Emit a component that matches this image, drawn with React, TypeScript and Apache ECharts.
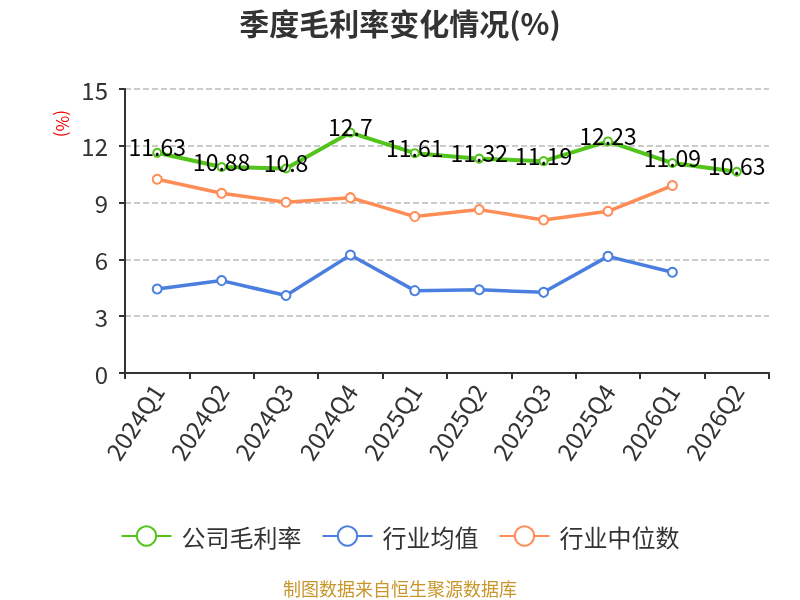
import React, { useEffect, useRef } from "react";
import * as echarts from "echarts";

const categories = ["2024Q1", "2024Q2", "2024Q3", "2024Q4", "2025Q1", "2025Q2", "2025Q3", "2025Q4", "2026Q1", "2026Q2"];
const companyMargin = [11.63, 10.88, 10.8, 12.7, 11.61, 11.32, 11.19, 12.23, 11.09, 10.63];
const industryAvg = [4.44, 4.88, 4.09, 6.23, 4.35, 4.4, 4.26, 6.16, 5.32, null];
const industryMedian = [10.23, 9.49, 9.02, 9.26, 8.26, 8.63, 8.08, 8.54, 9.9, null];
const yTicks = [0, 3, 6, 9, 12, 15];

const FONT = "'Noto Sans CJK SC', 'Noto Sans', sans-serif";

export default function App() {
  const ref = useRef<HTMLDivElement>(null);
  useEffect(() => {
    const chart = echarts.init(ref.current!, null, { renderer: "svg" });
    chart.setOption({
      animation: false,
      textStyle: { fontFamily: FONT },
      title: {
        text: "季度毛利率变化情况(%)",
        left: "center",
        top: 2,
        textStyle: { fontSize: 30, fontWeight: "bold", color: "#333", fontFamily: FONT },
      },
      graphic: [
        {
          type: "text",
          x: 72,
          y: 110,
          rotation: -Math.PI / 2,
          style: { text: "(%)", fill: "#e00", fontSize: 17, fontFamily: FONT },
        },
        {
          type: "text",
          left: "center",
          top: 579,
          style: { text: "制图数据来自恒生聚源数据库", fill: "#c8962a", fontSize: 18, fontFamily: FONT },
        },
      ],
      legend: {
        top: 519,
        left: "center",
        itemWidth: 50,
        itemHeight: 24,
        itemGap: 20,
        textStyle: { fontSize: 24, color: "#333", fontFamily: FONT, padding: [0, 0, 0, 5] },
        data: ["公司毛利率", "行业均值", "行业中位数"],
      },
      grid: { left: 125, right: 31, top: 89, bottom: 227 },
      xAxis: {
        type: "category",
        data: categories,
        boundaryGap: true,
        axisLine: { lineStyle: { color: "#333", width: 2 } },
        axisTick: { show: true, lineStyle: { color: "#333", width: 2 }, length: 6 },
        axisLabel: { rotate: 57, fontSize: 24, color: "#333", margin: 13, interval: 0 },
      },
      yAxis: {
        type: "value",
        min: yTicks[0],
        max: yTicks[yTicks.length - 1],
        interval: 3,
        axisLine: { show: true, lineStyle: { color: "#333", width: 2 } },
        axisTick: { show: true, lineStyle: { color: "#333", width: 2 }, length: 6 },
        axisLabel: { fontSize: 24, color: "#333", margin: 17 },
        splitLine: { lineStyle: { type: "dashed", color: "#bbb", width: 1.5 } },
      },
      series: [
        {
          name: "公司毛利率",
          type: "line",
          data: companyMargin,
          symbol: "emptyCircle",
          symbolSize: 8,
          itemStyle: { color: "#52c41a", borderWidth: 2 },
          lineStyle: { width: 4, color: "#52c41a" },
          label: { show: true, position: "top", distance: -10, fontSize: 23, color: "#000" },
          z: 3,
        },
        {
          name: "行业均值",
          type: "line",
          data: industryAvg,
          symbol: "emptyCircle",
          symbolSize: 9,
          itemStyle: { color: "#4a7fe0", borderWidth: 2 },
          lineStyle: { width: 3.5, color: "#4a7fe0" },
        },
        {
          name: "行业中位数",
          type: "line",
          data: industryMedian,
          symbol: "emptyCircle",
          symbolSize: 9,
          itemStyle: { color: "#ff8c55", borderWidth: 2 },
          lineStyle: { width: 3.5, color: "#ff8c55" },
        },
      ],
    });
    return () => chart.dispose();
  }, []);
  return <div ref={ref} style={{ position: "fixed", left: 0, top: 0, width: 800, height: 600 }} />;
}
